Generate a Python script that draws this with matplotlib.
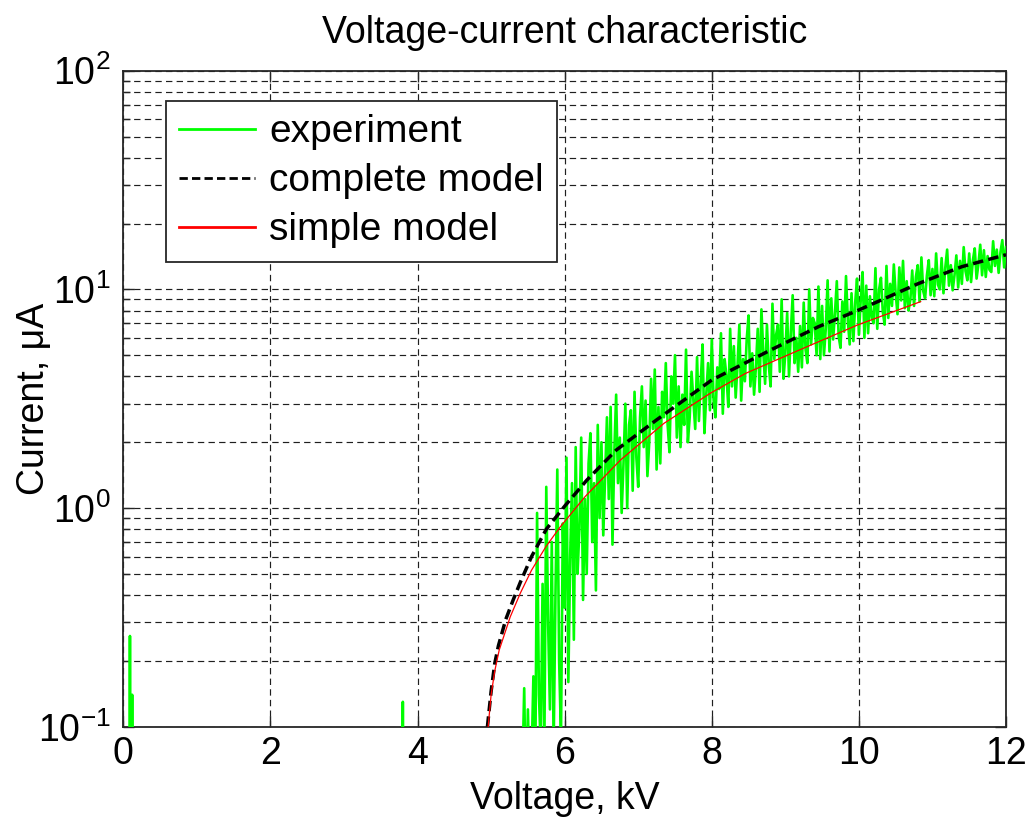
import numpy as np
import matplotlib
matplotlib.use("Agg")
import matplotlib.pyplot as plt
from matplotlib.ticker import LogLocator, NullFormatter, FixedLocator

plt.rcParams['font.family'] = ['Liberation Sans', 'DejaVu Sans']
plt.rcParams['mathtext.fontset'] = 'custom'
plt.rcParams['mathtext.rm'] = 'Liberation Sans'
plt.rcParams['mathtext.it'] = 'Liberation Sans:italic'
plt.rcParams['mathtext.bf'] = 'Liberation Sans:bold'

# ---- measured current, low-voltage part (isolated spikes) ----
low_voltage = [0.00, 0.085, 0.090, 0.095, 0.115, 0.120, 0.125,
               3.795, 3.800, 3.805, 5.375]
low_current = [0.01, 0.01, 0.26, 0.01, 0.01, 0.14, 0.01,
               0.01, 0.13, 0.01, 0.01]

# ---- measured current above breakdown, sampled every 25 V from 5.4 kV ----
exp_start_kv = 5.40
exp_step_kv = 0.025
exp_current = [
    0.05, 0.06, 0.15, 0.04, 0.12, 0.05, 0.07, 0.17,   # 5.4
    0.06, 0.95, 0.14, 0.08, 0.45, 0.09, 1.25, 0.30,   # 5.6
    0.12, 0.70, 0.08, 0.40, 1.50, 0.20, 0.09, 0.85,   # 5.8
    0.35, 1.70, 0.16, 0.60, 1.30, 0.25, 1.90, 0.50,   # 6.0
    0.80, 2.10, 0.38, 1.10, 0.50, 1.60, 2.20, 0.70,   # 6.2
    1.30, 0.42, 2.40, 0.90, 2.00, 0.75, 1.40, 2.60,   # 6.4
    1.10, 2.90, 0.68, 1.80, 3.30, 1.30, 2.10, 0.95,   # 6.6
    1.60, 3.00, 1.00, 2.40, 2.80, 1.20, 3.40, 1.70,   # 6.8
    1.25, 2.60, 3.60, 1.90, 3.10, 1.40, 2.00, 3.90,   # 7.0
    2.30, 4.30, 1.50, 2.90, 1.60, 3.40, 2.60, 4.60,   # 7.2
    2.40, 1.80, 4.00, 3.00, 5.00, 2.10, 3.60, 1.90,   # 7.4
    3.30, 2.40, 5.30, 2.00, 2.60, 4.20, 3.10, 2.30,   # 7.6
    4.90, 2.50, 3.80, 5.60, 2.20, 3.30, 4.60, 2.80,   # 7.8
    5.90, 3.10, 2.60, 4.40, 3.50, 6.30, 2.70, 4.80,   # 8.0
    4.00, 2.90, 6.60, 3.60, 5.50, 3.20, 4.50, 6.90,   # 8.2
    3.10, 4.80, 3.80, 5.90, 7.60, 3.60, 5.10, 3.30,   # 8.4
    4.40, 6.60, 3.40, 8.10, 5.20, 3.70, 6.90, 4.50,   # 8.6
    3.60, 8.60, 4.80, 6.20, 6.90, 4.20, 9.00, 3.90,   # 8.8
    5.10, 7.80, 4.00, 6.40, 9.40, 4.60, 6.00, 4.20,   # 9.0
    6.80, 4.40, 8.70, 5.30, 4.60, 10.0, 5.60, 7.40,   # 9.2
    7.00, 5.00, 10.3, 4.80, 8.40, 5.00, 6.60, 11.0,   # 9.4
    5.20, 9.10, 5.90, 7.80, 10.9, 6.10, 5.40, 8.80,   # 9.6
    6.40, 11.5, 7.20, 5.60, 9.60, 5.80, 8.70, 11.2,   # 9.8
    6.20, 8.90, 12.0, 6.00, 10.4, 6.30, 9.30, 7.40,   # 10.0
    7.00, 12.5, 6.60, 10.0, 11.3, 7.90, 6.90, 12.8,   # 10.2
    7.40, 10.6, 8.40, 13.0, 9.60, 7.70, 12.6, 8.90,   # 10.4
    13.5, 8.20, 10.9, 8.00, 9.00, 12.2, 8.40, 11.4,   # 10.6
    12.9, 8.80, 14.0, 9.80, 9.10, 11.6, 13.6, 9.40,   # 10.8
    12.4, 9.30, 14.6, 10.5, 10.0, 13.9, 9.60, 12.6,   # 11.0
    15.2, 10.4, 12.9, 9.90, 11.6, 14.3, 10.2, 13.5,   # 11.2
    10.6, 15.6, 12.1, 11.0, 14.6, 10.8, 13.6, 15.4,   # 11.4
    11.2, 13.0, 16.0, 11.6, 15.1, 11.4, 14.2, 12.3,   # 11.6
    12.0, 16.6, 12.8, 15.2, 11.9, 14.8, 16.8, 12.6,   # 11.8
    15.6,                                             # 12.0
]

# ---- complete model ----
complete_voltage = [4.95, 5.00, 5.05, 5.10, 5.20, 5.30, 5.40, 5.55, 5.75, 6.00,
                    6.30, 6.70, 7.25, 8.00, 8.80, 9.45, 10.00, 10.80, 11.40, 12.00]
complete_current = [0.100, 0.145, 0.195, 0.235, 0.31, 0.38, 0.46, 0.60, 0.80, 1.02,
                    1.34, 1.84, 2.53, 3.85, 5.28, 6.75, 8.05, 10.6, 12.7, 14.4]

# ---- simple model ----
simple_voltage = [4.96, 5.00, 5.05, 5.11, 5.26, 5.40, 5.55, 5.75, 5.94, 6.28,
                  6.76, 7.35, 7.98, 8.46, 9.19, 9.98, 10.84]
simple_current = [0.100, 0.14, 0.18, 0.224, 0.318, 0.41, 0.52, 0.67, 0.82, 1.13,
                  1.66, 2.44, 3.35, 4.13, 5.28, 6.87, 8.79]

x_ticks = [0, 2, 4, 6, 8, 10, 12]
y_ticks = [0.1, 1, 10, 100]
y_tick_labels = [r'$\mathdefault{10^{-1}}$', r'$\mathdefault{10^{0}}$',
                 r'$\mathdefault{10^{1}}$', r'$\mathdefault{10^{2}}$']

exp_voltage = np.round(exp_start_kv + exp_step_kv * np.arange(len(exp_current)), 3)
all_exp_voltage = np.concatenate([low_voltage, exp_voltage])
all_exp_current = np.concatenate([low_current, exp_current])

fig = plt.figure(figsize=(10.32, 8.22), dpi=100)
ax = fig.add_axes([0.1195, 0.1159, 0.8553, 0.7981])

FS = 27

ax.plot(all_exp_voltage, all_exp_current, color='#00ff00', lw=1.9,
        label='experiment', zorder=3)
ax.plot(complete_voltage, complete_current, color='black', lw=2.5,
        linestyle=(0, (3.0, 1.5)), label='complete model', zorder=4)
ax.plot(simple_voltage, simple_current, color='#ff0000', lw=0.9,
        label='simple model', zorder=5)

ax.set_yscale('log')
ax.set_xlim(0, 12)
ax.set_ylim(0.1, 100)

ax.xaxis.set_major_locator(FixedLocator(x_ticks))
ax.set_xticklabels([str(t) for t in x_ticks])
ax.yaxis.set_major_locator(FixedLocator(y_ticks))
ax.set_yticklabels(y_tick_labels)
ax.yaxis.set_minor_locator(LogLocator(base=10, subs=np.arange(2, 10), numticks=20))
ax.yaxis.set_minor_formatter(NullFormatter())

grid_style = dict(color='0.12', lw=0.85, linestyle=(0, (5.4, 3.6)))
ax.grid(True, which='major', axis='both', **grid_style)
ax.grid(True, which='minor', axis='y', **grid_style)
ax.set_axisbelow(True)

ax.tick_params(which='both', direction='in', top=True, right=True,
               labelsize=FS, width=1.0, color='0.15')
ax.tick_params(which='major', length=8)
ax.tick_params(which='minor', length=5)
ax.tick_params(axis='x', pad=7)
ax.tick_params(axis='y', pad=9)
for s in ax.spines.values():
    s.set_linewidth(1.3)
    s.set_color('0.15')

ax.set_title('Voltage-current characteristic', fontsize=FS, pad=20)
ax.set_xlabel('Voltage, kV', fontsize=FS, labelpad=6)
ax.set_ylabel('Current, μA', fontsize=FS)
ax.yaxis.set_label_coords(-0.081, 0.5)

leg = ax.legend(loc='upper left', bbox_to_anchor=(0.048, 0.954),
                borderaxespad=0, fontsize=28, frameon=True, fancybox=False,
                framealpha=1, edgecolor='0.15', handlelength=1.95,
                handletextpad=0.36, borderpad=0.35, labelspacing=0.33)
leg.get_frame().set_linewidth(1.3)
for line in leg.get_lines():
    line.set_linewidth(2.0)

fig.savefig('out.png', dpi=100, facecolor='white')
